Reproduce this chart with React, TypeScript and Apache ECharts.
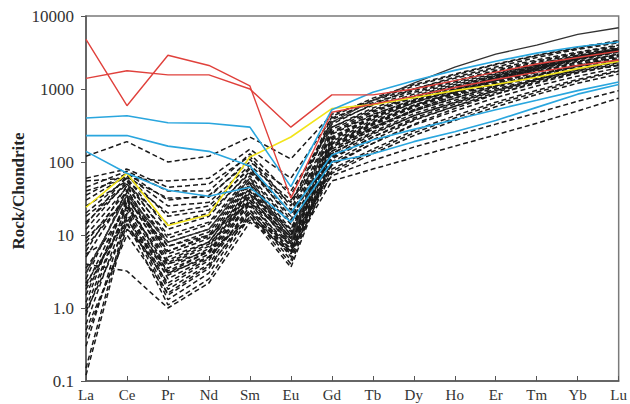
import React, { useEffect, useRef } from "react";
import * as echarts from "echarts";

const elements = ["La", "Ce", "Pr", "Nd", "Sm", "Eu", "Gd", "Tb", "Dy", "Ho", "Er", "Tm", "Yb", "Lu"];
const yTickLabels: Record<string, string> = { "0.1": "0.1", "1": "1.0", "10": "10", "100": "100", "1000": "1000", "10000": "10000" };

const redA = [4800, 590, 2900, 2100, 1100, 32, 480, 620, 800, 1050, 1350, 1700, 2100, 2500];
const redB = [1400, 1780, 1560, 1560, 1000, 300, 830, 830, 1000, 1300, 1700, 2200, 2700, 3300];
const blueA = [400, 430, 345, 340, 300, 46, 520, 900, 1300, 1800, 2400, 3100, 3800, 4400];
const blueB = [230, 230, 165, 140, 88, 20, 125, 200, 280, 380, 520, 700, 950, 1250];
const blueC = [140, 70, 41, 34, 45, 15, 100, 130, 190, 260, 370, 560, 850, 1150];
const yellowA = [24, 70, 13.5, 19, 117, 220, 540, 610, 760, 950, 1150, 1450, 1900, 2400];
const blackSolid = [3, 35, 8, 12, 60, 8, 350, 700, 1200, 2000, 3000, 4000, 5600, 6900];

const dashedSamples: number[][] = [
  [120, 190, 100, 120, 220, 110, 450, 700, 1000, 1400, 1900, 2500, 3200, 4000],
  [55, 60, 55, 60, 150, 60, 400, 650, 950, 1300, 1800, 2400, 3100, 3900],
  [45, 75, 40, 40, 130, 35, 350, 600, 900, 1250, 1750, 2300, 3000, 3700],
  [35, 70, 30, 35, 100, 40, 300, 550, 850, 1200, 1650, 2200, 2900, 3600],
  [60, 80, 45, 50, 120, 25, 420, 750, 1150, 1600, 2200, 2900, 3700, 4600],
  [25, 55, 20, 25, 80, 20, 300, 520, 800, 1150, 1600, 2150, 2800, 3500],
  [15, 50, 10, 15, 65, 15, 250, 450, 700, 1000, 1450, 2000, 2700, 3400],
  [10, 45, 8, 12, 55, 12, 220, 420, 680, 980, 1400, 1900, 2600, 3300],
  [8, 40, 6, 10, 50, 10, 200, 400, 650, 950, 1350, 1850, 2500, 3200],
  [5, 38, 5, 8, 45, 9, 180, 360, 600, 900, 1300, 1800, 2400, 3000],
  [3, 35, 4, 7, 40, 8, 170, 340, 580, 880, 1250, 1750, 2300, 2900],
  [2, 30, 3, 6, 35, 7, 160, 320, 560, 850, 1200, 1700, 2200, 2800],
  [1.5, 28, 2.5, 5, 30, 6, 150, 300, 520, 800, 1150, 1600, 2100, 2700],
  [1, 25, 2, 4.5, 28, 5.5, 140, 280, 500, 750, 1100, 1550, 2050, 2600],
  [0.6, 22, 1.8, 4, 25, 5, 130, 260, 460, 700, 1050, 1500, 2000, 2500],
  [0.3, 20, 1.5, 3.5, 22, 4.5, 120, 240, 430, 660, 1000, 1400, 1900, 2400],
  [0.15, 18, 1.3, 3, 20, 4, 110, 220, 400, 620, 950, 1350, 1800, 2300],
  [0.12, 15, 1.1, 2.5, 18, 3.6, 100, 200, 370, 580, 900, 1300, 1750, 2200],
  [4, 3.2, 1.0, 2.2, 15, 6, 90, 180, 330, 540, 850, 1250, 1700, 2100],
  [20, 60, 12, 18, 75, 18, 280, 500, 780, 1100, 1550, 2100, 2800, 3600],
  [12, 55, 9, 14, 60, 14, 240, 440, 720, 1050, 1500, 2050, 2750, 3500],
  [6, 48, 7, 11, 52, 11, 210, 410, 690, 1000, 1450, 2000, 2700, 3400],
  [2.5, 42, 5.5, 9, 48, 10, 190, 380, 650, 980, 1420, 1950, 2650, 3350],
  [1.2, 33, 4.5, 8, 42, 9, 175, 350, 600, 920, 1350, 1900, 2600, 3300],
  [0.8, 26, 3.5, 6.5, 38, 8, 160, 330, 580, 900, 1300, 1850, 2550, 3250],
  [0.4, 12, 2.8, 5.5, 33, 7.5, 140, 290, 520, 820, 1200, 1700, 2350, 3000],
  [7, 32, 6, 9.5, 36, 12, 130, 250, 430, 650, 950, 1350, 1850, 2400],
  [3.5, 24, 4.2, 7.5, 30, 9.5, 115, 220, 380, 580, 850, 1200, 1650, 2150],
  [1.8, 19, 3.2, 6, 26, 7, 95, 180, 320, 500, 760, 1100, 1500, 1950],
  [0.9, 14, 2.2, 4.8, 22, 6.5, 80, 150, 270, 430, 660, 960, 1350, 1800],
  [0.5, 10, 1.6, 3.8, 18, 5.5, 70, 130, 230, 370, 570, 840, 1200, 1600],
  [2.2, 16, 3, 5, 20, 6, 55, 80, 115, 165, 235, 340, 500, 750],
  [9, 30, 7, 10, 28, 9, 65, 105, 160, 230, 330, 470, 680, 950],
  [30, 65, 25, 28, 90, 30, 160, 300, 500, 750, 1100, 1550, 2100, 2800],
  [40, 60, 32, 33, 110, 22, 380, 700, 1100, 1550, 2150, 2850, 3600, 4500],
  [18, 50, 14, 20, 70, 28, 330, 620, 1000, 1450, 2000, 2700, 3500, 4300],
  [14, 65, 18, 22, 85, 16, 260, 480, 760, 1080, 1520, 2080, 2780, 3550],
  [5.5, 12, 4, 6, 16, 8, 75, 140, 250, 400, 620, 900, 1300, 1750],
];

const FONT = "'Liberation Serif', 'DejaVu Serif', serif";

export default function App() {
  const ref = useRef<HTMLDivElement>(null);
  useEffect(() => {
    if (!ref.current) return;
    const chart = echarts.init(ref.current, undefined, { renderer: "svg" });
    const line = (name: string, data: number[], color: string, dashed: boolean, width: number) => ({
      name,
      type: "line",
      data,
      symbol: "none",
      silent: true,
      lineStyle: { color, width, type: dashed ? [5, 3] : "solid" },
    });
    const series: any[] = [];
    dashedSamples.forEach((d, i) => series.push(line("sample" + (i + 1), d, "#1a1a1a", true, 1.5)));
    series.push(line("black", blackSolid, "#333333", false, 1.3));
    series.push(line("yellow", yellowA, "#f2e41a", false, 1.6));
    series.push(line("blueA", blueA, "#2aa6de", false, 1.6));
    series.push(line("blueB", blueB, "#2aa6de", false, 1.6));
    series.push(line("blueC", blueC, "#2aa6de", false, 1.6));
    series.push(line("redA", redA, "#e0413c", false, 1.4));
    series.push(line("redB", redB, "#e0413c", false, 1.4));

    chart.setOption({
      animation: false,
      backgroundColor: "#ffffff",
      grid: { left: 86, right: 8, top: 16, bottom: 23, show: true, borderColor: "#7a7a7a", borderWidth: 1.5 },
      xAxis: {
        type: "category",
        data: elements,
        boundaryGap: false,
        axisLine: { lineStyle: { color: "#555", width: 1.5 } },
        axisTick: { inside: true, length: 5, alignWithLabel: true, lineStyle: { color: "#555" } },
        axisLabel: { color: "#333", fontFamily: FONT, fontSize: 15, margin: 6 },
        splitLine: { show: false },
      },
      yAxis: {
        type: "log",
        logBase: 10,
        min: 0.1,
        max: 10000,
        axisLine: { show: true, lineStyle: { color: "#555", width: 1.5 } },
        axisTick: { show: true, inside: false, length: 5, lineStyle: { color: "#555" } },
        minorTick: { show: false },
        axisLabel: {
          color: "#333",
          fontFamily: FONT,
          fontSize: 17,
          margin: 12,
          formatter: (v: number) => yTickLabels[String(v)] ?? String(v),
        },
        splitLine: { show: false },
      },
      graphic: [
        {
          type: "text",
          x: 18,
          y: 191,
          rotation: Math.PI / 2,
          style: {
            text: "Rock/Chondrite",
            fill: "#222",
            font: "bold 17px " + FONT,
            align: "center",
            verticalAlign: "middle",
          },
        },
      ],
      series,
    });
    return () => chart.dispose();
  }, []);
  return <div ref={ref} style={{ position: "fixed", left: 0, top: 0, width: 630, height: 404 }} />;
}
